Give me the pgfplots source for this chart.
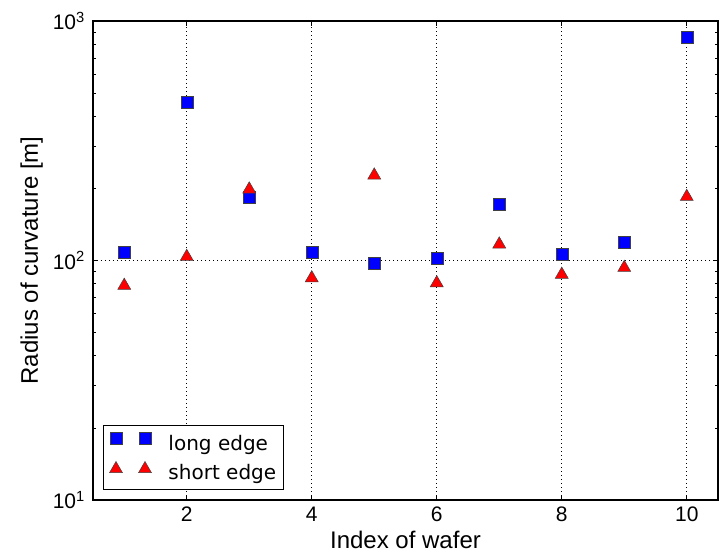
\documentclass[border=0pt]{standalone}
\usepackage{pgfplots}
\pgfplotsset{compat=1.18}
\usepackage{fontspec}
\setmainfont{Liberation Sans}
\newfontfamily\dejavu{DejaVu Sans}

\begin{document}
\begin{tikzpicture}
\begin{axis}[
    scale only axis,
    width=625pt, height=479pt,
    xmin=0.5, xmax=10.5,
    ymode=log, ymin=10, ymax=1000,
    xtick={2,4,6,8,10},
    xticklabels={2,4,6,8,10},
    ytick={10,100,1000},
    yticklabels={10\textsuperscript{1},10\textsuperscript{2},10\textsuperscript{3}},
    minor ytick={20,30,40,50,60,70,80,90,200,300,400,500,600,700,800,900},
    tick align=inside,
    major tick length=5pt, minor tick length=3pt,
    tick style={black, line width=0.8pt},
    axis line style={black, line width=1.2pt},
    grid=major,
    major grid style={black, line width=0.6pt, dash pattern=on 1pt off 3pt},
    x tick label style={font=\fontsize{21}{23}\selectfont, inner sep=0pt, yshift=-7pt},
    y tick label style={font=\fontsize{21}{23}\selectfont, inner sep=0pt, xshift=-8pt},
    xlabel={Index of wafer},
    ylabel={Radius of curvature [m]},
    xlabel style={font=\fontsize{24}{28}\selectfont, at={(axis description cs:0.5,-0.0655)}, anchor=north, inner sep=0pt},
    ylabel style={font=\fontsize{24}{28}\selectfont, at={(axis description cs:-0.08,0.5)}, anchor=south, inner sep=0pt},
    legend style={at={(axis description cs:0.016,0.021)}, anchor=south west,
        draw=black, line width=1pt, font=\dejavu\fontsize{20}{22}\selectfont,
        inner xsep=6pt, inner ysep=7pt, row sep=8pt, nodes={inner sep=1pt},
        /tikz/every odd column/.append style={column sep=16pt}},
    legend cell align=left,
    legend image code/.code={
        \path[draw=none] (0pt,0pt) -- (41pt,0pt);
        \path[#1, draw=none] plot coordinates {(6pt,6pt) (35pt,6pt)};},
]
\coordinate (bl) at (rel axis cs:0,0);
\coordinate (tr) at (rel axis cs:1,1);

\addplot[only marks, mark=square*, mark size=6pt,
    mark options={fill=blue, draw=black!75, line width=0.5pt}] coordinates {
    (1,108) (2,457) (3,184) (4,108) (5,97.6)
    (6,102) (7,171) (8,106) (9,119) (10,853)
};
\addplot[only marks, mark=triangle*, mark size=7.5pt,
    mark options={fill=red, draw=black!75, line width=0.5pt, yshift=-1.9pt}] coordinates {
    (1,80) (2,105.6) (3,202) (4,86) (5,231)
    (6,82) (7,119) (8,89) (9,95) (10,188)
};
\legend{long edge, short edge}
\end{axis}
\path ([xshift=-93pt,yshift=-55pt]bl) rectangle ([xshift=5pt,yshift=21pt]tr);
\end{tikzpicture}
\end{document}
